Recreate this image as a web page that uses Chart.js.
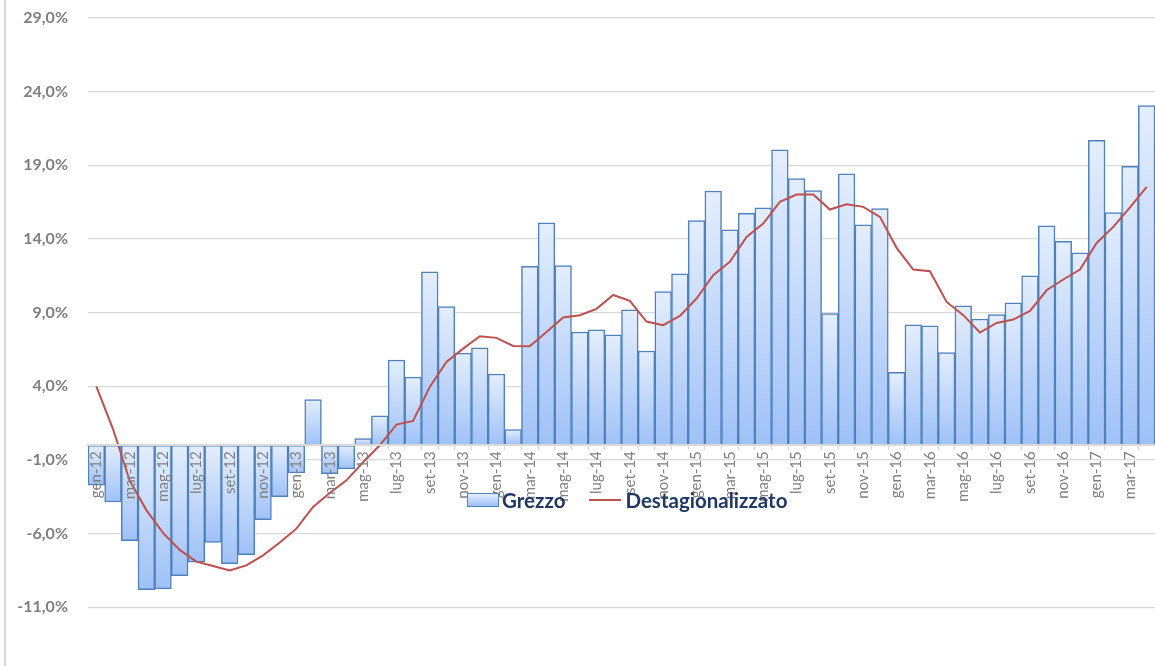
<!DOCTYPE html>
<html>
<head>
<meta charset="utf-8">
<script src="https://cdn.jsdelivr.net/npm/chart.js@4"></script>
<style>
    html, body { margin: 0; padding: 0; background: #fff; overflow: hidden; }
    #wrap { position: relative; width: 1155px; height: 700px; }
    #edge { position: absolute; left: 4px; top: 0; width: 2px; height: 700px; background: #d9d9d9; }
    #legend {
        position: absolute; left: 467px; top: 488px;
        font-family: Lato, 'Open Sans', sans-serif; font-weight: bold;
        font-size: 20.5px; color: #1f3864; display: flex; align-items: center;
    }
    #legend .box {
        width: 30px; height: 12px; border: 1px solid #4f81bd;
        background: linear-gradient(#e4eefd, #9fc1f7); margin-right: 3px;
    }
    #legend .line { width: 32px; height: 2px; background: #c0504d; margin: 0 4px 0 24px; }
</style>
</head>
<body>
<div id="wrap">
    <div id="edge"></div>
    <canvas id="chart" width="1155" height="700"></canvas>
    <div id="legend">
        <span class="box"></span><span>Grezzo</span>
        <span class="line"></span><span>Destagionalizzato</span>
    </div>
</div>
<script>
// Monthly growth rates, gen-12 .. apr-17

const MONTHS = ['gen', 'feb', 'mar', 'apr', 'mag', 'giu', 'lug', 'ago', 'set', 'ott', 'nov', 'dic'];
const YEARS = ['12', '13', '14', '15', '16', '17'];
const LAST_YEAR_MONTHS = 4;

const grezzo = [
    -2.7, -3.85, -6.47, -9.8, -9.75, -8.85, -7.94, -6.59, -8.03, -7.42, -5.05, -3.49,
    -1.88, 3.1, -1.92, -1.6, 0.45, 2.0, 5.79, 4.62, 11.77, 9.42, 6.25, 6.61,
    4.84, 1.06, 12.15, 15.09, 12.2, 7.69, 7.83, 7.49, 9.2, 6.4, 10.43, 11.63,
    15.25, 17.26, 14.62, 15.75, 16.11, 20.05, 18.1, 17.29, 8.94, 18.42, 14.96, 16.07,
    4.95, 8.17, 8.1, 6.29, 9.46, 8.57, 8.87, 9.66, 11.5, 14.89, 13.85, 13.06,
    20.69, 15.8, 18.94, 23.06
];

const destagionalizzato = [
    4.0, 1.1, -2.4, -4.4, -5.95, -7.1, -7.9, -8.2, -8.5, -8.15, -7.47, -6.6,
    -5.66, -4.19, -3.24, -2.38, -1.15, 0.0, 1.4, 1.65, 3.96, 5.66, 6.56, 7.4,
    7.29, 6.74, 6.72, 7.69, 8.67, 8.83, 9.26, 10.2, 9.8, 8.4, 8.15, 8.78,
    9.96, 11.54, 12.45, 14.14, 15.05, 16.52, 17.02, 17.02, 16.0, 16.36, 16.18, 15.5,
    13.4, 11.93, 11.81, 9.73, 8.83, 7.65, 8.3, 8.53, 9.12, 10.52, 11.25, 11.93,
    13.73, 14.82, 16.14, 17.54
];

const Y_MIN = -16;
const Y_MAX = 29;
const Y_STEP = 5;

const labels = [];
YEARS.forEach((yr, i) => {
    const n = i === YEARS.length - 1 ? LAST_YEAR_MONTHS : 12;
    for (let m = 0; m < n; m++) labels.push(MONTHS[m] + '-' + yr);
});

// vertical gradient per bar, light at the top, darker at the bottom
function barFill(ctx) {
    const chart = ctx.chart;
    if (!chart.chartArea || ctx.type !== 'data') return '#c6d9f8';
    const y = chart.scales.y;
    const v = ctx.raw;
    const top = y.getPixelForValue(Math.max(v, 0));
    const bottom = y.getPixelForValue(Math.min(v, 0));
    if (!isFinite(top) || !isFinite(bottom) || top === bottom) return '#c6d9f8';
    const g = chart.ctx.createLinearGradient(0, top, 0, bottom);
    g.addColorStop(0, '#e4eefd');
    g.addColorStop(1, '#9fc1f7');
    return g;
}

const ctx = document.getElementById('chart').getContext('2d');
new Chart(ctx, {
    data: {
        labels: labels,
        datasets: [
            {
                type: 'line',
                label: 'Destagionalizzato',
                data: destagionalizzato,
                borderColor: '#c0504d',
                borderWidth: 2,
                pointRadius: 0,
                tension: 0,
                order: 0
            },
            {
                type: 'bar',
                label: 'Grezzo',
                data: grezzo,
                backgroundColor: barFill,
                borderColor: '#4f81bd',
                borderWidth: 1.5,
                borderSkipped: false,
                barPercentage: 1,
                categoryPercentage: 1,
                order: 1
            }
        ]
    },
    options: {
        animation: false,
        responsive: false,
        layout: { padding: { left: 0, right: 0, top: 18, bottom: 19 } },
        plugins: {
            legend: { display: false },
            tooltip: { enabled: false }
        },
        scales: {
            x: {
                position: { y: 0 },
                offset: true,
                // rotated labels should not shrink the plot on the right
                afterFit: (scale) => { scale.paddingLeft = 0; scale.paddingRight = 0; },
                grid: {
                    drawOnChartArea: false,
                    drawTicks: true,
                    tickLength: 4,
                    color: '#d9d9d9'
                },
                border: { color: '#d9d9d9', width: 2, z: 1 },
                ticks: {
                    z: 1,   // labels sit on top of the negative bars
                    autoSkip: false,
                    maxRotation: 90,
                    minRotation: 90,
                    padding: 2,
                    color: '#7f7f7f',
                    font: { family: 'Lato', size: 15 },
                    callback: function (val, i) {
                        return i % 2 === 0 ? this.getLabelForValue(val) : '';
                    }
                }
            },
            y: {
                min: Y_MIN,
                max: Y_MAX,
                afterFit: (scale) => { scale.width = 88; },
                grid: {
                    color: '#d9d9d9',
                    lineWidth: 1.3,
                    drawTicks: true,
                    tickLength: 20,
                    tickColor: 'rgba(0,0,0,0)'
                },
                border: { display: false },
                ticks: {
                    stepSize: Y_STEP,
                    padding: 0,
                    color: '#7f7f7f',
                    font: { family: 'Lato', size: 16, weight: 'bold' },
                    callback: (v) => v.toFixed(1).replace('.', ',') + '%'
                }
            }
        }
    }
});
</script>
</body>
</html>
